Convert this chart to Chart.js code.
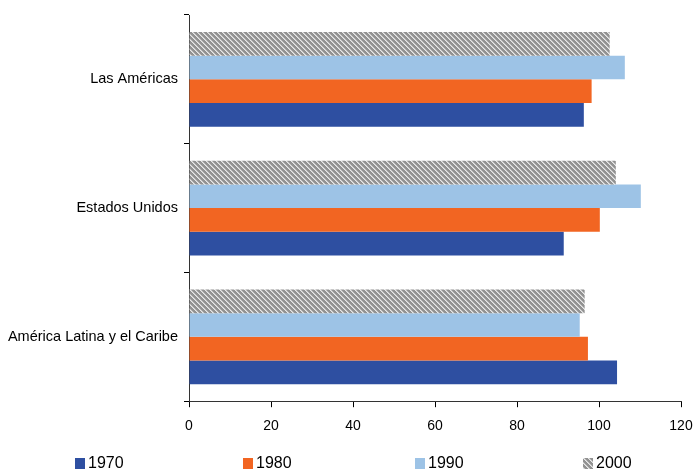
<!DOCTYPE html>
<html>
<head>
<meta charset="utf-8">
<script src="https://cdn.jsdelivr.net/npm/chart.js@4.4.0/dist/chart.umd.min.js"></script>
<style>
  body { margin: 0; background: #fff; }
  #wrap { width: 693px; height: 472px; }
</style>
</head>
<body>
<div id="wrap"><canvas id="barChart" width="693" height="472"></canvas></div>
<script>
// Datos (de arriba hacia abajo)
var regiones = ['Las Américas', 'Estados Unidos', 'América Latina y el Caribe'];
var anios = ['1970', '1980', '1990', '2000'];
var v1970 = [96.3, 91.4, 104.4];
var v1980 = [98.2, 100.2, 97.3];
var v1990 = [106.3, 110.2, 95.3];
var v2000 = [102.6, 104.1, 96.5];
var ticksX = [0, 20, 40, 60, 80, 100, 120];

// Trama gris con rayas diagonales para 2000
function crearTrama() {
  var n = 5;
  var c = document.createElement('canvas');
  c.width = n; c.height = n;
  var g = c.getContext('2d');
  g.fillStyle = '#929292';
  g.fillRect(0, 0, n, n);
  for (var x = 0; x < n; x++) {
    for (var y = 0; y < n; y++) {
      var d = ((x - y) % n + n) % n;
      if (d === 0) { g.fillStyle = '#e8e8e8'; g.fillRect(x, y, 1, 1); }
      else if (d === 1) { g.fillStyle = '#c4c4c4'; g.fillRect(x, y, 1, 1); }
    }
  }
  return g.createPattern(c, 'repeat');
}
var trama = crearTrama();

var colores = {
  '1970': '#2e4fa1',
  '1980': '#f26522',
  '1990': '#9dc3e6',
  '2000': trama
};

// orden de datasets: 2000 arriba, 1970 abajo en cada grupo
var dataBar = {
  labels: regiones,
  datasets: [
    { label: '2000', data: v2000, backgroundColor: colores['2000'] },
    { label: '1990', data: v1990, backgroundColor: colores['1990'] },
    { label: '1980', data: v1980, backgroundColor: colores['1980'] },
    { label: '1970', data: v1970, backgroundColor: colores['1970'] }
  ]
};

// Leyenda dibujada a mano en cuatro columnas
var leyenda = {
  id: 'leyenda',
  afterDraw: function(chart) {
    var ctx = chart.ctx;
    var xs = [75, 243, 415, 583];
    var y = 463;
    ctx.save();
    ctx.font = '16px "Liberation Sans", Arial, sans-serif';
    ctx.textBaseline = 'middle';
    anios.forEach(function(a, i) {
      ctx.fillStyle = colores[a];
      ctx.fillRect(xs[i], y - 5, 10, 11);
      ctx.fillStyle = '#000';
      ctx.fillText(a, xs[i] + 13, y + 1);
    });
    ctx.restore();
  }
};

var fuente = '"Liberation Sans", Arial, sans-serif';

var optionsBar = {
  indexAxis: 'y',
  responsive: false,
  animation: false,
  layout: { padding: { top: 15, right: 1, bottom: 26, left: 0 } },
  datasets: { bar: { categoryPercentage: 0.735, barPercentage: 1.0 } },
  plugins: { legend: { display: false }, tooltip: { enabled: false } },
  scales: {
    x: {
      min: 0,
      max: 120,
      afterBuildTicks: function(scale) {
        scale.ticks = ticksX.map(function(v) { return { value: v }; });
      },
      afterFit: function(scale) { scale.paddingRight = 12; },
      grid: { display: true, drawOnChartArea: false, drawTicks: true, tickLength: 6, color: '#000' },
      border: { display: true, color: '#333', width: 1 },
      ticks: { color: '#000', font: { family: fuente, size: 14 }, padding: 11, maxRotation: 0 }
    },
    y: {
      afterFit: function(scale) { scale.width = 189; },
      grid: { display: true, drawOnChartArea: false, drawTicks: true, tickLength: 5, color: '#000', offset: true },
      border: { display: true, color: '#333', width: 1 },
      ticks: { color: '#000', font: { family: fuente, size: 14.5 }, padding: 6 }
    }
  }
};

var ctxBar = document.getElementById('barChart').getContext('2d');
var barChart = new Chart(ctxBar, {
  type: 'bar',
  data: dataBar,
  options: optionsBar,
  plugins: [leyenda]
});
</script>
</body>
</html>
